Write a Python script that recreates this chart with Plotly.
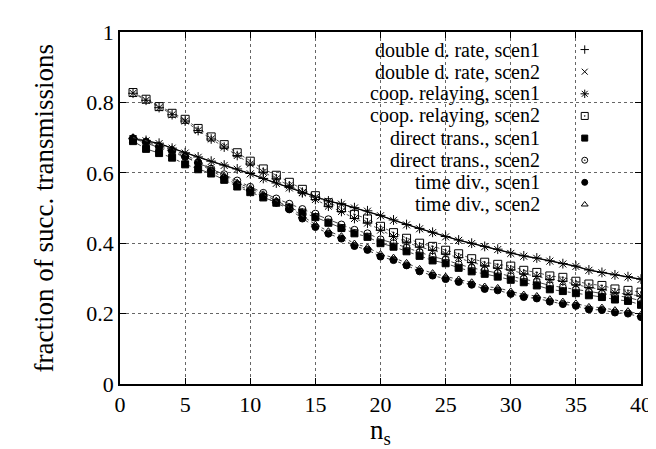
import plotly.graph_objects as go

ns = list(range(1, 41))

double_rate_s1 = [0.698, 0.692, 0.684, 0.670, 0.657, 0.645, 0.633, 0.622, 0.611, 0.598,
                  0.584, 0.571, 0.558, 0.545, 0.531, 0.520, 0.512, 0.501, 0.492, 0.479,
                  0.466, 0.453, 0.442, 0.431, 0.419, 0.409, 0.400, 0.391, 0.383, 0.372,
                  0.364, 0.358, 0.350, 0.342, 0.335, 0.324, 0.317, 0.310, 0.305, 0.298]
double_rate_s2 = [0.697, 0.691, 0.683, 0.670, 0.656, 0.644, 0.632, 0.621, 0.610, 0.597,
                  0.583, 0.570, 0.557, 0.544, 0.530, 0.519, 0.511, 0.500, 0.491, 0.478,
                  0.465, 0.452, 0.441, 0.430, 0.418, 0.408, 0.399, 0.390, 0.382, 0.371,
                  0.363, 0.357, 0.349, 0.341, 0.334, 0.323, 0.316, 0.309, 0.304, 0.297]
coop_s1 = [0.826, 0.806, 0.785, 0.765, 0.747, 0.720, 0.696, 0.673, 0.649, 0.625,
           0.602, 0.583, 0.563, 0.543, 0.524, 0.505, 0.490, 0.470, 0.457, 0.437,
           0.419, 0.403, 0.389, 0.380, 0.369, 0.359, 0.345, 0.336, 0.329, 0.324,
           0.313, 0.306, 0.297, 0.292, 0.282, 0.274, 0.269, 0.259, 0.255, 0.250]
coop_s2 = [0.828, 0.809, 0.788, 0.769, 0.752, 0.726, 0.702, 0.680, 0.657, 0.633,
           0.611, 0.593, 0.573, 0.553, 0.535, 0.515, 0.500, 0.482, 0.469, 0.448,
           0.430, 0.414, 0.400, 0.391, 0.380, 0.370, 0.356, 0.346, 0.340, 0.335,
           0.323, 0.317, 0.307, 0.303, 0.292, 0.284, 0.280, 0.270, 0.266, 0.261]
direct_s1 = [0.690, 0.668, 0.656, 0.643, 0.624, 0.610, 0.598, 0.580, 0.561, 0.545,
             0.530, 0.515, 0.501, 0.487, 0.474, 0.458, 0.443, 0.428, 0.418, 0.400,
             0.390, 0.377, 0.364, 0.351, 0.343, 0.330, 0.320, 0.313, 0.305, 0.296,
             0.289, 0.280, 0.269, 0.264, 0.258, 0.252, 0.247, 0.240, 0.236, 0.225]
direct_s2 = [0.698, 0.685, 0.672, 0.660, 0.645, 0.628, 0.612, 0.596, 0.578, 0.560,
             0.543, 0.527, 0.512, 0.497, 0.484, 0.468, 0.453, 0.438, 0.428, 0.411,
             0.400, 0.387, 0.374, 0.362, 0.353, 0.340, 0.330, 0.323, 0.315, 0.306,
             0.299, 0.290, 0.280, 0.274, 0.268, 0.262, 0.257, 0.250, 0.246, 0.236]
timediv_s1 = [0.698, 0.688, 0.675, 0.663, 0.646, 0.628, 0.606, 0.585, 0.566, 0.550,
              0.533, 0.515, 0.496, 0.470, 0.446, 0.427, 0.413, 0.392, 0.381, 0.362,
              0.352, 0.337, 0.320, 0.308, 0.298, 0.290, 0.282, 0.270, 0.266, 0.256,
              0.247, 0.243, 0.234, 0.227, 0.222, 0.212, 0.210, 0.203, 0.200, 0.190]
timediv_s2 = [0.700, 0.691, 0.679, 0.667, 0.651, 0.633, 0.612, 0.591, 0.572, 0.556,
              0.539, 0.521, 0.502, 0.477, 0.453, 0.434, 0.420, 0.399, 0.388, 0.369,
              0.359, 0.344, 0.327, 0.315, 0.305, 0.297, 0.289, 0.277, 0.273, 0.263,
              0.254, 0.250, 0.241, 0.234, 0.229, 0.219, 0.217, 0.210, 0.207, 0.197]

labels = ["double d. rate, scen1", "double d. rate, scen2",
          "coop. relaying, scen1", "coop. relaying, scen2",
          "direct trans., scen1", "direct trans., scen2",
          "time div., scen1", "time div., scen2"]
series = [double_rate_s1, double_rate_s2, coop_s1, coop_s2,
          direct_s1, direct_s2, timediv_s1, timediv_s2]
symbols = ["cross-thin", "x-thin", "asterisk", "square-open-dot",
           "square", "circle-open-dot", "circle", "triangle-up-open"]
sizes = [7, 7, 8, 8, 7, 7, 7, 7]
dashes = ["solid", "solid", "dot", "dot", "dashdot", "dashdot", "dot", "dot"]
line_colors = ["#000000", "#000000", "#555555", "#555555", "#444444", "#444444", "#444444", "#444444"]

FONT = "Liberation Serif, Times New Roman, serif"

fig = go.Figure()
for lab, ys, sym, sz, ds, lc in zip(labels, series, symbols, sizes, dashes, line_colors):
    fig.add_trace(go.Scatter(
        x=ns, y=ys, mode="lines+markers", name=lab, showlegend=False,
        line=dict(color=lc, width=1, dash=ds),
        marker=dict(symbol=sym, size=sz, color="black",
                    line=dict(color="black", width=1)),
    ))

# legend keys (gnuplot style: text right-aligned, symbol to the right)
n = len(labels)
key_frac_x = 0.892
key_frac_y = [(376 - (33 + 22.7 * i)) / 361 for i in range(n)]
for i in range(n):
    fig.add_trace(go.Scatter(
        x=[key_frac_x * 40], y=[key_frac_y[i]], mode="markers", showlegend=False,
        marker=dict(symbol=symbols[i], size=sizes[i] - 1, color="black",
                    line=dict(color="black", width=1)),
        hoverinfo="skip",
    ))
    fig.add_annotation(x=0.8075, y=key_frac_y[i], xref="paper", yref="paper",
                       text=labels[i], showarrow=False, xanchor="right",
                       yanchor="middle", borderpad=0,
                       font=dict(family=FONT, size=20, color="black"))

# axis titles
fig.add_annotation(x=0.5, y=-0.083, xref="paper", yref="paper",
                   text="n<sub>s</sub>", showarrow=False, xanchor="center", yanchor="top",
                   font=dict(family=FONT, size=27, color="black"))
fig.add_annotation(x=-0.145, y=0.5, xref="paper", yref="paper",
                   text="fraction of succ. transmissions", showarrow=False, textangle=-90,
                   xanchor="center", yanchor="middle",
                   font=dict(family=FONT, size=27, color="black"))

axis_common = dict(
    showline=True, linecolor="black", linewidth=1.5, mirror="ticks",
    ticks="inside", ticklen=6, tickcolor="black", tickwidth=1,
    showgrid=True, gridcolor="#666666", griddash="dot", gridwidth=1,
    zeroline=False,
    tickfont=dict(family=FONT, size=22, color="black"),
)

fig.update_layout(
    width=656, height=449,
    margin=dict(l=112, r=13, t=15, b=73),
    paper_bgcolor="white", plot_bgcolor="white",
    font=dict(family=FONT, color="black"),
    xaxis=dict(range=[0, 40], dtick=5, tick0=0, **axis_common),
    yaxis=dict(range=[0, 1], dtick=0.2, tick0=0, tickformat="~g", **axis_common),
)

fig.write_html("out.html")
